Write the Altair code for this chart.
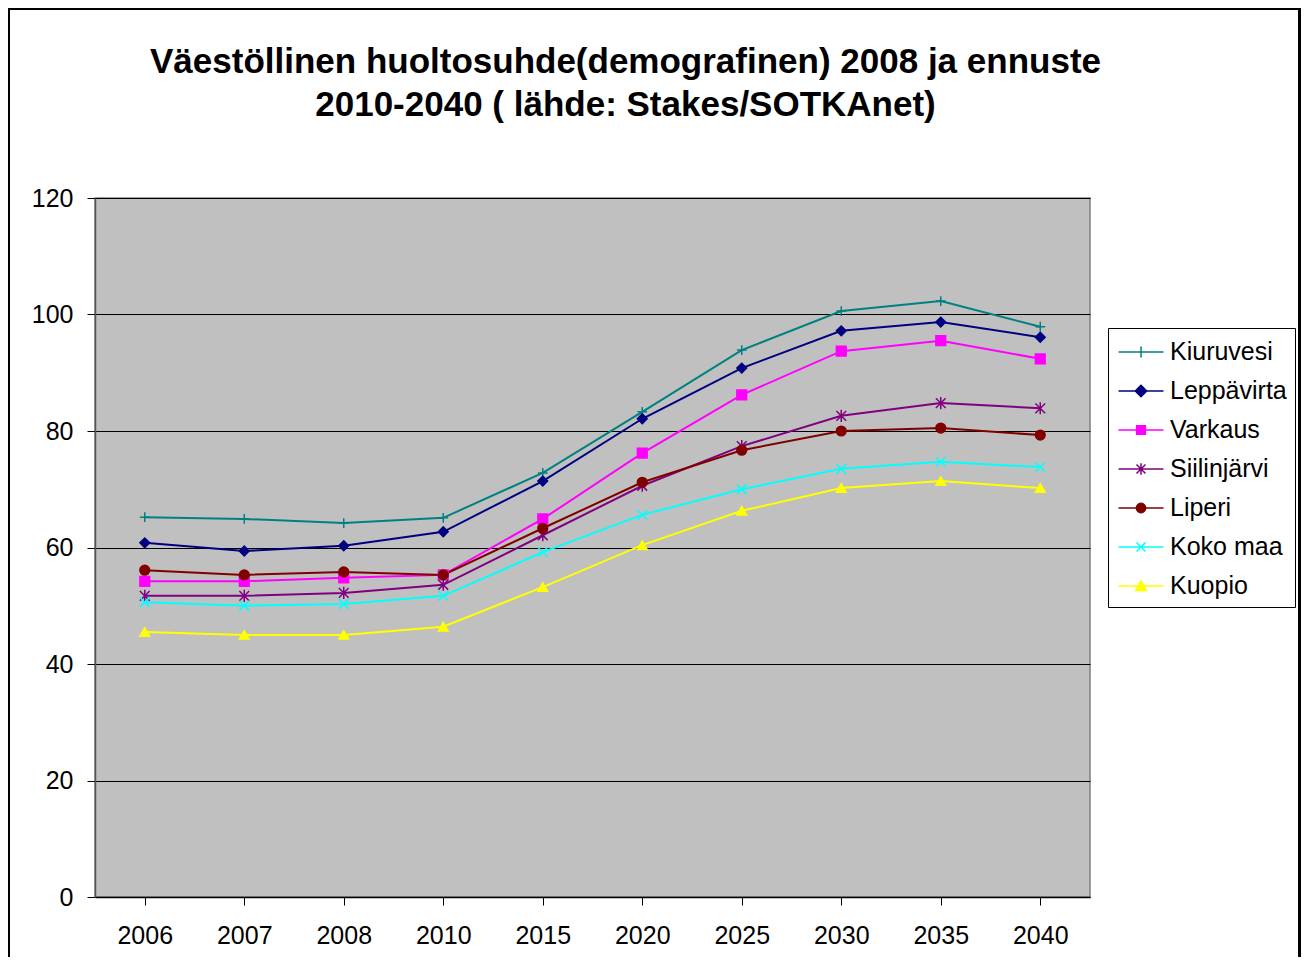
import altair as alt
import pandas as pd

years = ["2006", "2007", "2008", "2010", "2015", "2020", "2025", "2030", "2035", "2040"]
series = ["Kiuruvesi", "Leppävirta", "Varkaus", "Siilinjärvi", "Liperi", "Koko maa", "Kuopio"]
colors = ["#008080", "#000080", "#FF00FF", "#800080", "#800000", "#00FFFF", "#FFFF00"]

kiuruvesi = [65.2, 64.9, 64.2, 65.1, 72.8, 83.3, 93.9, 100.6, 102.3, 97.9]
leppavirta = [60.8, 59.4, 60.3, 62.7, 71.4, 82.1, 90.8, 97.2, 98.7, 96.1]
varkaus = [54.2, 54.2, 54.8, 55.3, 64.9, 76.2, 86.2, 93.7, 95.5, 92.4]
siilinjarvi = [51.7, 51.7, 52.2, 53.6, 62.1, 70.6, 77.4, 82.6, 84.8, 83.9]
liperi = [56.1, 55.3, 55.8, 55.3, 63.3, 71.2, 76.7, 80.0, 80.5, 79.3]
koko_maa = [50.6, 50.0, 50.3, 51.7, 59.2, 65.6, 70.0, 73.5, 74.7, 73.8]
kuopio = [45.5, 45.0, 45.0, 46.4, 53.2, 60.4, 66.3, 70.2, 71.4, 70.2]

values = [kiuruvesi, leppavirta, varkaus, siilinjarvi, liperi, koko_maa, kuopio]

# marker shapes in the plot (paths in [-1, 1])
plot_shapes = [
    "M-1,0H1M0,-1V1",                                   # plus
    "diamond",
    "square",
    "M-1,-1L1,1M-1,1L1,-1M0,-1.25V1.25",                # asterisk
    "circle",
    "M-1,-1L1,1M-1,1L1,-1",                             # x
    "triangle-up",
]

# legend symbols: a line with the marker in the middle
legend_shapes = [
    "M-1.5,0H1.5M0,-0.36V0.36",
    "M-1.5,0H1.5M0,-0.38L0.38,0L0,0.38L-0.38,0Z",
    "M-1.5,0H1.5M-0.29,-0.29H0.29V0.29H-0.29Z",
    "M-1.5,0H1.5M-0.3,-0.3L0.3,0.3M-0.3,0.3L0.3,-0.3M0,-0.38V0.38",
    "M-1.5,0H1.5M-0.31,0A0.31,0.31 0 1,0 0.31,0A0.31,0.31 0 1,0 -0.31,0Z",
    "M-1.5,0H1.5M-0.3,-0.3L0.3,0.3M-0.3,0.3L0.3,-0.3",
    "M-1.5,0H1.5M0,-0.35L0.36,0.3H-0.36Z",
]

rows = []
for k, (s, vals) in enumerate(zip(series, values)):
    for y, v in zip(years, vals):
        rows.append({"year": y, "value": v, "series": s, "marker": k})
df = pd.DataFrame(rows)
marker_codes = list(range(len(series)))

FONT = "Liberation Sans"

shape_list = "[" + ",".join("'" + p + "'" for p in legend_shapes) + "]"
name_list = "[" + ",".join("'" + n + "'" for n in series) + "]"
shape_expr = f"{shape_list}[indexof({name_list}, datum.value)]"
color_expr = "scale('color', datum.value)"

x_enc = alt.X(
    "year:O",
    sort=years,
    scale=alt.Scale(paddingInner=0, paddingOuter=0),
    axis=alt.Axis(
        title=None, labelAngle=0, labelFontSize=25, labelFont=FONT, labelColor="black",
        bandPosition=0, tickSize=8, tickColor="black", domainColor="black", domainWidth=1.5,
        labelPadding=18, grid=False,
    ),
)
y_enc = alt.Y(
    "value:Q",
    scale=alt.Scale(domain=[0, 120], nice=False),
    axis=alt.Axis(
        title=None, values=[0, 20, 40, 60, 80, 100, 120], labelFontSize=25, labelFont=FONT,
        labelColor="black", tickSize=8, tickColor="black", domainColor="#555555",
        domainWidth=1.5, labelPadding=14, grid=True, gridColor="black", gridWidth=1,
    ),
)

lines = alt.Chart(df).mark_line(strokeWidth=2).encode(
    x=x_enc,
    y=y_enc,
    color=alt.Color(
        "series:N",
        scale=alt.Scale(domain=series, range=colors),
        sort=series,
        legend=alt.Legend(
            title=None,
            orient="none",
            legendX=1013,
            legendY=130,
            fillColor="white",
            strokeColor="black",
            padding=8,
            labelFontSize=25,
            labelFont=FONT,
            labelColor="black",
            labelOffset=13,
            rowPadding=10,
            symbolSize=900,
            symbolOffset=9,
            symbolStrokeWidth=1.5,
            symbolType={"expr": shape_expr},
            symbolFillColor={"expr": color_expr},
            symbolStrokeColor={"expr": color_expr},
            symbolOpacity=1,
        ),
    ),
    detail="series:N",
)

points = alt.Chart(df).mark_point(filled=True, size=95, strokeWidth=1.5, opacity=1).encode(
    x=alt.X("year:O", sort=years),
    y="value:Q",
    fill=alt.Fill("marker:N", scale=alt.Scale(domain=marker_codes, range=colors), legend=None),
    stroke=alt.Stroke("marker:N", scale=alt.Scale(domain=marker_codes, range=colors), legend=None),
    shape=alt.Shape("marker:N", scale=alt.Scale(domain=marker_codes, range=plot_shapes), legend=None),
)

frame = alt.Chart(df).mark_rect(fillOpacity=0, stroke="black", strokeWidth=2.5).encode(
    x=alt.value(-87), x2=alt.value(1205), y=alt.value(-190), y2=alt.value(800)
)

chart = alt.layer(lines, points, frame).properties(
    width=995,
    height=699,
    autosize=alt.AutoSizeParams(type="none"),
    padding={"left": 87, "top": 190, "right": 211, "bottom": 60},
    background="white",
    title=alt.TitleParams(
        text=["Väestöllinen huoltosuhde(demografinen) 2008 ja ennuste",
              "2010-2040 ( lähde: Stakes/SOTKAnet)"],
        fontSize=35,
        font=FONT,
        fontWeight="bold",
        color="black",
        anchor="middle",
        frame="group",
        dx=33,
        dy=116,
        offset=0,
        lineHeight=43,
    ),
).configure_view(
    fill="#C0C0C0", stroke="#808080", strokeWidth=1.5
)

chart.save("out.html", embed_options={"renderer": "svg", "actions": False})
